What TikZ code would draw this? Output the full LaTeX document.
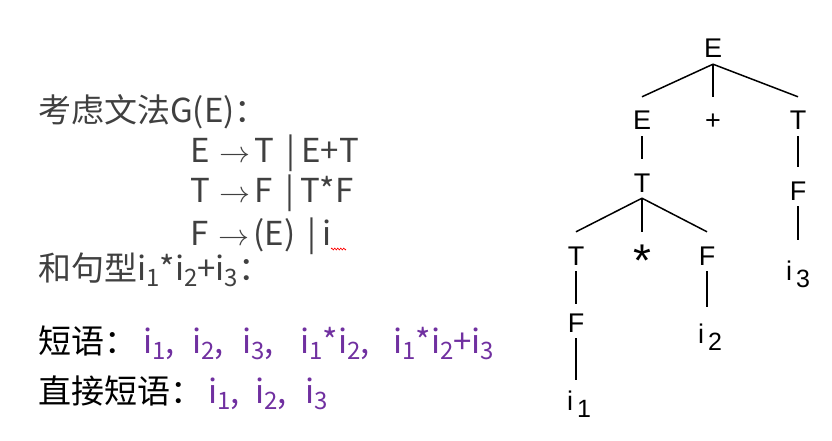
\documentclass[tikz,border=0pt]{standalone}
\usepackage{fontspec}
\usepackage{graphicx}
\setmainfont{Noto Sans CJK SC}
\newfontfamily\treefont{Liberation Sans}
\usetikzlibrary{decorations.pathmorphing}
\definecolor{txtgrey}{HTML}{404040}
\definecolor{phrase}{HTML}{7030A0}
\newcommand\bigtxt{\fontsize{33}{40}\selectfont}
\newcommand\isub[1]{i\raisebox{-6pt}{\fontsize{24}{24}\selectfont #1}}
\newcommand\tsub[1]{i\kern4pt\raisebox{-7pt}{\fontsize{25}{25}\selectfont #1}}
\newcommand\prodarrow{\hspace{10pt}\resizebox{31pt}{11pt}{\(\rightarrow\)}\hspace{4pt}}
\newcommand\altbar{\hspace{12pt}|\hspace{6pt}}

\begin{document}
\begin{tikzpicture}[x=1pt,y=-1pt,
  txt/.style={anchor=base west,inner sep=0pt,font=\bigtxt},
  tn/.style={anchor=base,inner sep=0pt,text height=33pt,text depth=6pt,
    font=\treefont\fontsize{27}{27}\selectfont},
  br/.style={line width=1.5pt}]
\useasboundingbox (0,0) rectangle (832,441);
% grammar
\node[txt,txtgrey] (gram) at(38,123) {考虑文法G(E)：};
\node[txt,txtgrey] (p1) at(190,162) {E\prodarrow T\altbar E+T};
\node[txt,txtgrey] (p2) at(190,202) {T\prodarrow F\altbar T*F};
\node[txt,txtgrey] (p3) at(190,245) {F\prodarrow (E)\altbar i};
\draw[red,line width=.6pt,decorate,decoration={zigzag,amplitude=1pt,segment length=3pt}] (331,249) -- (346,249);
\node[txt,txtgrey] (sent) at(38,280) {和句型\isub{1}*\isub{2}+\isub{3}：};
% phrases
\node[txt] (ph) at(38,353) {短语：};
\node[txt,phrase] (ph1) at(143,353) {\isub{1},};
\node[txt,phrase] (ph2) at(192,353) {\isub{2},};
\node[txt,phrase] (ph3) at(242,353) {\isub{3},};
\node[txt,phrase] (ph4) at(300,353) {\isub{1}*\isub{2},};
\node[txt,phrase] (ph5) at(393,353) {\isub{1}*\isub{2}+\isub{3}};
\node[txt] (dph) at(38,403) {直接短语：};
\node[txt,phrase] (dph1) at(208,403) {\isub{1},};
\node[txt,phrase] (dph2) at(255,403) {\isub{2},};
\node[txt,phrase] (dph3) at(305,403) {\isub{3}};
% tree
\node[tn] (e0) at(713,58) {E};
\node[tn] (e1) at(642,130) {E};
\node[tn] (plus) at(713,130) {+};
\node[tn] (t1) at(798,130) {T};
\node[tn] (t2) at(642,192) {T};
\node[tn] (f1) at(798,200) {F};
\node[tn,text height=40pt] (i3) at(798,280) {\tsub{3}};
\node[tn] (t3) at(576,265) {T};
\node[tn] (star) at(642,265) {\raisebox{-11pt}{\scalebox{1.7}{*}}};
\node[tn] (f2) at(707,265) {F};
\node[tn,text height=28pt] (f3) at(576,332) {F};
\node[tn,text height=36pt] (i2) at(710,343) {\tsub{2}};
\node[tn,text height=30pt] (i1) at(579,410) {\tsub{1}};
\draw[br] (e0.south) -- (e1.north);
\draw[br] (e0.south) -- (plus.north);
\draw[br] (e0.south) -- (t1.north);
\draw[br] (e1.south) -- (t2.north);
\draw[br] (t1.south) -- (f1.north);
\draw[br] (f1.south) -- (f1.south|-i3.north);
\draw[br] (t2.south) -- (t3.north);
\draw[br] (t2.south) -- (star.north);
\draw[br] (t2.south) -- (f2.north);
\draw[br] (t3.south) -- (f3.north);
\draw[br] (f3.south) -- (f3.south|-i1.north);
\draw[br] (f2.south) -- (f2.south|-i2.north);
\end{tikzpicture}
\end{document}
